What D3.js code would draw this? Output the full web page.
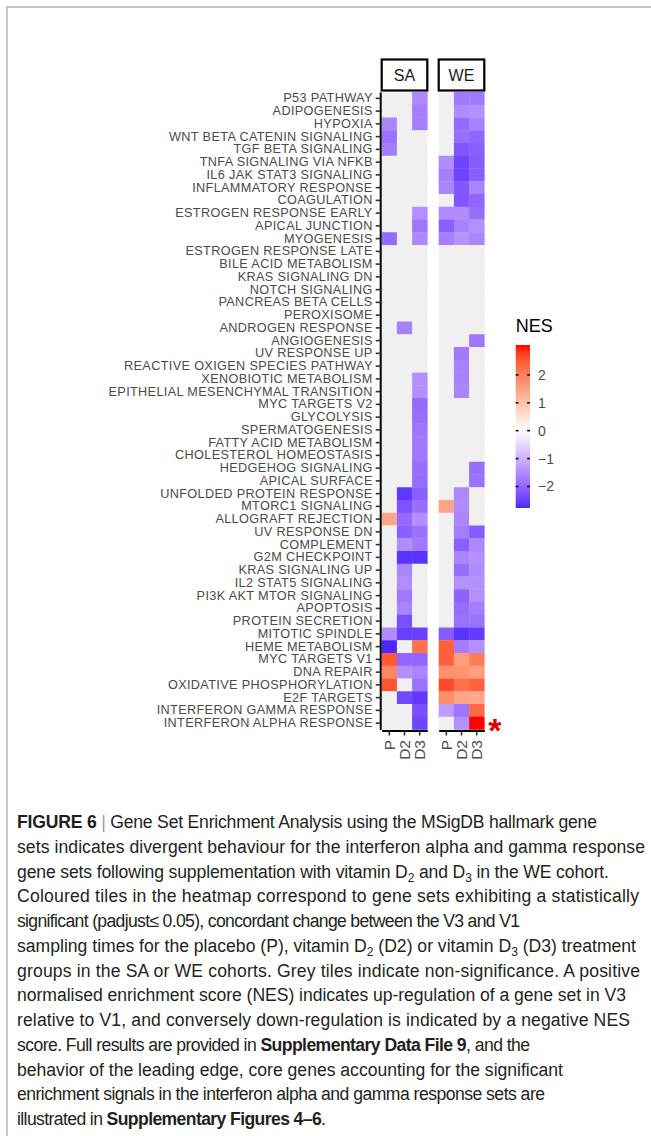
<!DOCTYPE html>
<html>
<head>
<meta charset="utf-8">
<script src="https://cdn.jsdelivr.net/npm/d3@7"></script>
<style>
  body { margin: 0; background: #fff; }
  svg text { font-family: "Liberation Sans", Arial, sans-serif; }
</style>
</head>
<body>
<div id="heatmap"></div>
<script>
// gene sets, top to bottom
const geneSets = [
  "P53 PATHWAY", "ADIPOGENESIS", "HYPOXIA", "WNT BETA CATENIN SIGNALING", "TGF BETA SIGNALING",
  "TNFA SIGNALING VIA NFKB", "IL6 JAK STAT3 SIGNALING", "INFLAMMATORY RESPONSE", "COAGULATION", "ESTROGEN RESPONSE EARLY",
  "APICAL JUNCTION", "MYOGENESIS", "ESTROGEN RESPONSE LATE", "BILE ACID METABOLISM", "KRAS SIGNALING DN",
  "NOTCH SIGNALING", "PANCREAS BETA CELLS", "PEROXISOME", "ANDROGEN RESPONSE", "ANGIOGENESIS",
  "UV RESPONSE UP", "REACTIVE OXIGEN SPECIES PATHWAY", "XENOBIOTIC METABOLISM", "EPITHELIAL MESENCHYMAL TRANSITION", "MYC TARGETS V2",
  "GLYCOLYSIS", "SPERMATOGENESIS", "FATTY ACID METABOLISM", "CHOLESTEROL HOMEOSTASIS", "HEDGEHOG SIGNALING",
  "APICAL SURFACE", "UNFOLDED PROTEIN RESPONSE", "MTORC1 SIGNALING", "ALLOGRAFT REJECTION", "UV RESPONSE DN",
  "COMPLEMENT", "G2M CHECKPOINT", "KRAS SIGNALING UP", "IL2 STAT5 SIGNALING", "PI3K AKT MTOR SIGNALING",
  "APOPTOSIS", "PROTEIN SECRETION", "MITOTIC SPINDLE", "HEME METABOLISM", "MYC TARGETS V1",
  "DNA REPAIR", "OXIDATIVE PHOSPHORYLATION", "E2F TARGETS", "INTERFERON GAMMA RESPONSE", "INTERFERON ALPHA RESPONSE"
]
const cohorts = ["SA", "WE"]
const treatments = ["P", "D2", "D3"]

// NES per gene set (same order as geneSets), null = not significant (grey tile)
const saP = [
  null, null, -1.6, -1.85, -1.7, null, null, null, null, null,
  null, -1.95, null, null, null, null, null, null, null, null,
  null, null, null, null, null, null, null, null, null, null,
  null, null, null, 1.45, null, null, null, null, null, null,
  null, null, -1.5, -2.77, 2.5, 1.9, 2.55, null, null, null
]
const saD2 = [
  null, null, null, null, null, null, null, null, null, null,
  null, null, null, null, null, null, null, null, -1.65, null,
  null, null, null, null, null, null, null, null, null, null,
  null, -2.6, -2.25, -1.95, -2.1, -1.5, -2.65, -1.6, -1.5, -1.75,
  -1.6, -2.3, -2.5, null, -2.0, -1.45, null, -2.4, null, null
]
const saD3 = [
  -1.55, -1.7, -1.7, null, null, null, null, null, null, -1.45,
  -1.8, -1.55, null, null, null, null, null, null, null, null,
  null, null, -1.45, -1.45, -1.95, -1.9, -1.8, -1.75, -1.75, -1.9,
  -1.95, -2.1, -1.9, -1.45, -1.85, -1.75, -2.65, null, null, null,
  null, null, -2.5, 2.2, -2.0, -1.6, -1.85, -2.6, -2.3, -2.45
]
const weP = [
  null, null, null, null, null, -1.5, -1.7, -1.6, null, -1.5,
  -2.1, -1.7, null, null, null, null, null, null, null, null,
  null, null, null, null, null, null, null, null, null, null,
  null, null, 1.45, null, null, null, null, null, null, null,
  null, null, -2.15, 2.4, 2.4, 1.75, 2.65, 1.8, -1.3, null
]
const weD2 = [
  -1.75, -1.5, -1.95, -1.9, -2.2, -2.45, -2.45, -2.2, -2.2, -1.5,
  -1.65, -1.4, null, null, null, null, null, null, null, null,
  -1.75, -1.65, -1.65, -1.6, null, null, null, null, null, null,
  null, -1.55, -1.5, -1.6, -1.7, -2.1, -1.6, -1.9, -1.45, -2.05,
  -1.9, -1.85, -2.65, -1.7, 1.55, 1.7, 2.2, 1.45, -1.8, -1.45
]
const weD3 = [
  -1.75, -1.45, -1.65, -2.0, -2.1, -2.15, -2.1, -1.6, -2.0, -1.9,
  -1.45, -1.6, null, null, null, null, null, null, null, -1.8,
  null, null, null, null, null, null, null, null, null, -1.9,
  -1.85, null, null, null, -2.15, -1.55, -1.45, -1.5, -1.45, -1.45,
  -1.7, -1.85, -2.55, -1.45, 2.05, 1.55, 2.4, 1.4, 2.3, 3.07
]
const legendTicks = [-2, -1, 0, 1, 2]
const starredSet = "INTERFERON ALPHA RESPONSE"

const series = [
  { cohort: "SA", treatment: "P", values: saP },
  { cohort: "SA", treatment: "D2", values: saD2 },
  { cohort: "SA", treatment: "D3", values: saD3 },
  { cohort: "WE", treatment: "P", values: weP },
  { cohort: "WE", treatment: "D2", values: weD2 },
  { cohort: "WE", treatment: "D3", values: weD3 }
]

// caption, one entry per printed line ("b" = bold, "sub" = subscript, "bar" = grey rule)
const captionLines = [
  [["FIGURE 6", "b"], [" "], ["|", "bar"], [" Gene Set Enrichment Analysis using the MSigDB hallmark gene"]],
  [["sets indicates divergent behaviour for the interferon alpha and gamma response"]],
  [["gene sets following supplementation with vitamin D"], ["2", "sub"], [" and D"], ["3", "sub"], [" in the WE cohort."]],
  [["Coloured tiles in the heatmap correspond to gene sets exhibiting a statistically"]],
  [["significant (padjust\u2264 0.05), concordant change between the V3 and V1"]],
  [["sampling times for the placebo (P), vitamin D"], ["2", "sub"], [" (D2) or vitamin D"], ["3", "sub"], [" (D3) treatment"]],
  [["groups in the SA or WE cohorts. Grey tiles indicate non-significance. A positive"]],
  [["normalised enrichment score (NES) indicates up-regulation of a gene set in V3"]],
  [["relative to V1, and conversely down-regulation is indicated by a negative NES"]],
  [["score. Full results are provided in "], ["Supplementary Data File 9", "b"], [", and the"]],
  [["behavior of the leading edge, core genes accounting for the significant"]],
  [["enrichment signals in the interferon alpha and gamma response sets are"]],
  [["illustrated in "], ["Supplementary Figures 4\u20136", "b"], ["."]]
]
// right end of each printed caption line
const captionEnds = [597, 645, 609, 639, 520, 636, 640, 626, 630, 530, 563, 545, 326]

function draw() {
  const width = 651
  const height = 1136

  // flatten into tiles
  const tiles = []
  series.forEach(s => {
    s.values.forEach((v, i) => {
      tiles.push({ set: geneSets[i], cohort: s.cohort, treatment: s.treatment, nes: v })
    })
  })

  const svg = d3.select('#heatmap')
    .append('svg')
    .attr('width', width)
    .attr('height', height)

  // figure frame (left + top rule)
  svg.append('path')
    .attr('d', `M7,${height} L7,7 L${width},7`)
    .attr('fill', 'none')
    .attr('stroke', '#b4b4b4')
    .attr('stroke-width', 1.5)

  // scales
  const yScale = d3.scaleBand()
    .domain(geneSets)
    .range([92, 729.5])

  const panelScale = d3.scaleBand()
    .domain(cohorts)
    .range([381.7, 484.3])
    .paddingInner(0.2)

  const xScale = d3.scaleBand()
    .domain(treatments)
    .range([0, panelScale.bandwidth()])

  const nesExtent = d3.extent(tiles.filter(d => d.nes !== null), d => d.nes)
  const maxAbs = d3.max(nesExtent, d => Math.abs(d))

  // ggplot-like gradient2: blue - white - red, interpolated in Lab
  const colorScale = d3.scaleLinear()
    .domain([-maxAbs, 0, maxAbs])
    .range(['blue', 'white', 'red'])
    .interpolate(d3.interpolateLab)

  const greyTile = '#f0f0f0'

  // one panel per cohort
  cohorts.forEach(cohort => {
    const px = panelScale(cohort)
    const panel = svg.append('g')
      .attr('transform', `translate(${px}, 0)`)

    panel.selectAll('rect.tile')
      .data(tiles.filter(d => d.cohort === cohort))
      .join('rect')
      .attr('class', 'tile')
      .attr('x', d => xScale(d.treatment))
      .attr('y', d => yScale(d.set))
      .attr('width', xScale.bandwidth() + 0.3)
      .attr('height', yScale.bandwidth() + 0.3)
      .attr('fill', d => d.nes === null ? greyTile : colorScale(d.nes))

    // strip on top
    panel.append('rect')
      .attr('x', 0)
      .attr('y', 59.5)
      .attr('width', panelScale.bandwidth())
      .attr('height', 31)
      .attr('fill', 'white')
      .attr('stroke', 'black')
      .attr('stroke-width', 2.2)

    panel.append('text')
      .attr('x', panelScale.bandwidth() / 2)
      .attr('y', 75)
      .attr('dy', '0.35em')
      .attr('text-anchor', 'middle')
      .attr('font-size', 16)
      .attr('fill', '#1a1a1a')
      .text(cohort)

    // bottom axis
    const xAxis = d3.axisBottom(xScale)
      .tickSize(5)
      .tickSizeOuter(0)
      .tickPadding(4)

    const xAxisGroup = panel.append('g')
      .attr('transform', `translate(0, ${yScale.range()[1] + 1})`)
      .call(xAxis)

    xAxisGroup.select('.domain')
      .attr('stroke', 'black')
      .attr('stroke-width', 2)
    xAxisGroup.selectAll('.tick line')
      .attr('stroke', '#333')
      .attr('stroke-width', 1.6)
    xAxisGroup.selectAll('.tick text')
      .attr('transform', 'rotate(-90)')
      .attr('x', -9.5)
      .attr('y', 0)
      .attr('dy', '0.36em')
      .attr('text-anchor', 'end')
      .attr('font-size', 15.5)
      .attr('font-family', '"Liberation Sans", Arial, sans-serif')
      .attr('fill', '#4d4d4d')
  })

  // left axis with gene set names
  const yAxis = d3.axisLeft(yScale)
    .tickSize(4.5)
    .tickSizeOuter(0)
    .tickPadding(3)

  const yAxisGroup = svg.append('g')
    .attr('transform', `translate(${panelScale.range()[0] - 1.5}, 0)`)
    .call(yAxis)

  yAxisGroup.select('.domain')
    .attr('stroke', 'black')
    .attr('stroke-width', 2)
  yAxisGroup.selectAll('.tick line')
    .attr('stroke', '#333')
    .attr('stroke-width', 1.6)
  // slightly tracked out so the widths match while rows stay clear of each other
  yAxisGroup.selectAll('.tick text')
    .attr('font-size', 12.7)
    .attr('letter-spacing', 0.35)
    .attr('font-family', '"Liberation Sans", Arial, sans-serif')
    .attr('fill', '#4a4a4a')

  // significance star
  svg.append('text')
    .attr('x', panelScale('WE') + panelScale.bandwidth() + 4)
    .attr('y', yScale(starredSet) + yScale.bandwidth() / 2 + 19)
    .attr('font-size', 34)
    .attr('font-weight', 'bold')
    .attr('fill', '#e00000')
    .text('*')

  // legend
  const legend = { x: 515.7, w: 14.3, top: 345, bottom: 508 }
  const legendScale = d3.scaleLinear()
    .domain(nesExtent)
    .range([legend.bottom, legend.top])

  const grad = svg.append('defs')
    .append('linearGradient')
    .attr('id', 'nesGrad')
    .attr('x1', 0).attr('y1', 1)
    .attr('x2', 0).attr('y2', 0)

  grad.selectAll('stop')
    .data(d3.range(0, 1.0001, 0.05))
    .join('stop')
    .attr('offset', d => d)
    .attr('stop-color', d => colorScale(nesExtent[0] + d * (nesExtent[1] - nesExtent[0])))

  svg.append('rect')
    .attr('x', legend.x)
    .attr('y', legend.top)
    .attr('width', legend.w)
    .attr('height', legend.bottom - legend.top)
    .attr('fill', 'url(#nesGrad)')

  svg.append('text')
    .attr('x', legend.x)
    .attr('y', 332)
    .attr('font-size', 18)
    .attr('fill', 'black')
    .text('NES')

  const tickLen = legend.w / 5
  const lt = svg.append('g')
    .selectAll('g')
    .data(legendTicks)
    .join('g')
    .attr('transform', d => `translate(0, ${legendScale(d)})`)

  lt.append('line')
    .attr('x1', legend.x).attr('x2', legend.x + tickLen)
    .attr('stroke', '#111').attr('stroke-width', 1.6)
  lt.append('line')
    .attr('x1', legend.x + legend.w - tickLen).attr('x2', legend.x + legend.w)
    .attr('stroke', '#111').attr('stroke-width', 1.6)
  lt.append('text')
    .attr('x', 538)
    .attr('dy', '0.35em')
    .attr('font-size', 14)
    .attr('fill', '#4d4d4d')
    .text(d => d < 0 ? '\u2212' + Math.abs(d) : d)

  // caption
  const caption = svg.append('g')
    .attr('fill', '#231f20')
    .attr('font-size', 17.6)

  captionLines.forEach((line, i) => {
    const t = caption.append('text')
      .attr('x', 17)
      .attr('y', 828 + i * 24.75)
      .attr('textLength', captionEnds[i] - 17)
      .attr('lengthAdjust', 'spacing')
    let shifted = false
    line.forEach(([str, style]) => {
      const span = t.append('tspan').text(str)
      if (style === 'b') span.attr('font-weight', 'bold')
      if (style === 'bar') span.attr('fill', '#9a9a9a').attr('font-weight', 300)
      if (style === 'sub') {
        span.attr('font-size', 12).attr('dy', 4)
        shifted = true
      } else if (shifted) {
        span.attr('dy', -4)
        shifted = false
      }
    })
  })
}

draw()
</script>
</body>
</html>
